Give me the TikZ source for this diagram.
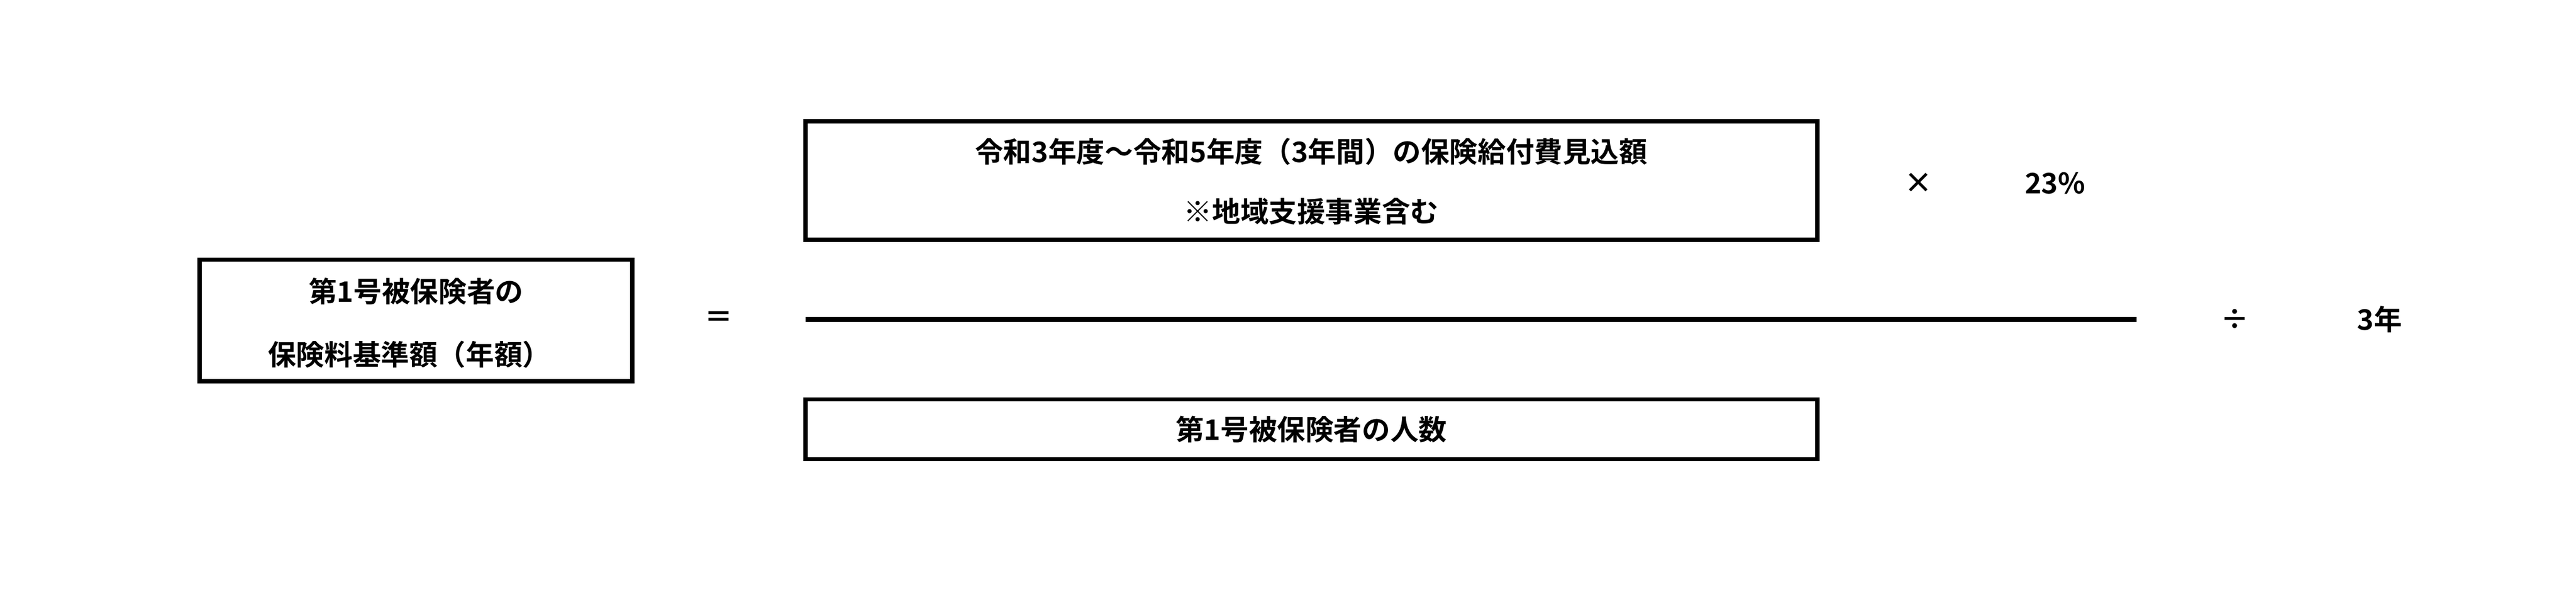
\documentclass[tikz,border=0pt]{standalone}
\usepackage{fontspec}
\newfontfamily\jp{Noto Sans CJK JP}[BoldFont={* Bold}]
\begin{document}
\begin{tikzpicture}[x=1pt,y=-1pt,
  bx/.style={draw,line width=2.6pt},
  tx/.style={font=\jp\bfseries\fontsize{17}{20}\selectfont,inner sep=0pt}]
\useasboundingbox[fill=white] (0,0) rectangle (1548,361.5);
\draw[bx] (120,156) rectangle (380,229);
\node[tx] (l1) at (250,175) {第1号被保険者の};
\node[tx] (l2) at (246,213) {保険料基準額（年額）};
\node[tx] (eq) at (432,192) {＝};
\draw[bx] (484,73) rectangle (1092,144);
\node[tx] (t1) at (788,91) {令和3年度～令和5年度（3年間）の保険給付費見込額};
\node[tx] (t2) at (788,127) {※地域支援事業含む};
\node[tx] (x) at (1153,110) {×};
\node[tx] (p) at (1235,110) {23\%};
\coordinate (la) at (484,192);
\coordinate (lb) at (1284,192);
\draw[line width=3pt] (la) -- (lb);
\draw[bx] (484,240) rectangle (1092,276);
\node[tx] (b1) at (788,258) {第1号被保険者の人数};
\node[tx] (d) at (1343,192) {÷};
\node[tx] (y) at (1430,192) {3年};
\end{tikzpicture}
\end{document}
